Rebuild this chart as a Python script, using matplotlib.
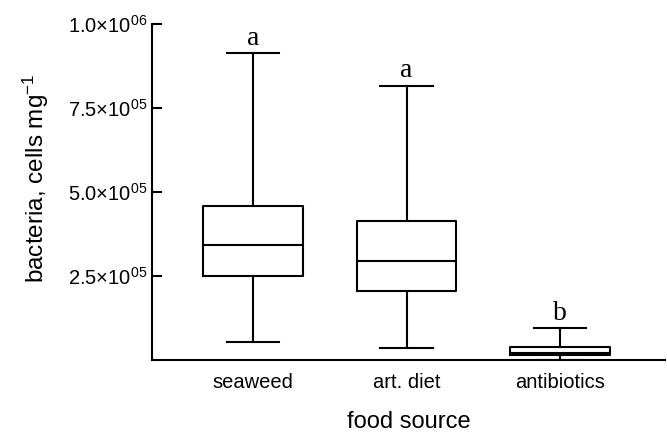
import numpy as np
import matplotlib
matplotlib.use("Agg")
import matplotlib.pyplot as plt
from matplotlib.ticker import FuncFormatter

# Box plot summaries (cells per mg)
categories = ['seaweed', 'art. diet', 'antibiotics']
whislo = [5.4e4, 3.6e4, 1.0e3]
q1 = [2.49e5, 2.05e5, 1.6e4]
med = [3.41e5, 2.95e5, 2.1e4]
q3 = [4.57e5, 4.14e5, 3.96e4]
whishi = [9.13e5, 8.16e5, 9.4e4]
letters = ['a', 'a', 'b']
yticks = [2.5e5, 5.0e5, 7.5e5, 1.0e6]

plt.rcParams['font.family'] = 'Liberation Sans'
plt.rcParams['mathtext.fontset'] = 'custom'
plt.rcParams['mathtext.rm'] = 'Liberation Sans'
plt.rcParams['mathtext.it'] = 'Liberation Sans'

fig = plt.figure(figsize=(6.67, 4.34), dpi=100)
ax = fig.add_axes([0.228, 0.1705, 0.769, 0.774])

stats = []
for i in range(len(categories)):
    stats.append(dict(label=categories[i], whislo=whislo[i], q1=q1[i], med=med[i],
                      q3=q3[i], whishi=whishi[i], fliers=[]))

pos = np.arange(1, len(categories) + 1)
line = dict(color='black', linewidth=1.5)
ax.bxp(stats, positions=pos, widths=0.65, showfliers=False,
       boxprops=line, medianprops=line, whiskerprops=line, capprops=line,
       capwidths=0.34)

for x, top, lab in zip(pos, whishi, letters):
    ax.annotate(lab, (x, top), xytext=(0, 2), textcoords='offset points',
                ha='center', va='bottom', fontsize=20, family='Liberation Serif')

ax.set_xlim(0.342, 3.684)
ax.set_ylim(0, 1.0e6)
ax.set_yticks(yticks)

def sci(v, p):
    m, e = f'{v:.1e}'.split('e')
    return r'$%s{\times}10^{%02d}$' % (m, int(e))

ax.yaxis.set_major_formatter(FuncFormatter(sci))
ax.tick_params(axis='y', direction='in', length=7.5, width=1.5, labelsize=14.5, pad=3.5)
ax.tick_params(axis='x', length=0, labelsize=14.5, pad=9)
for s in ['top', 'right']:
    ax.spines[s].set_visible(False)
for s in ['left', 'bottom']:
    ax.spines[s].set_linewidth(1.5)

ax.set_ylabel(r'bacteria, cells mg$^{\mathregular{-1}}$', fontsize=17.5)
ax.yaxis.set_label_coords(-0.198, 0.54)
ax.set_xlabel('food source', fontsize=17)
ax.xaxis.set_label_coords(0.5, -0.153)

fig.savefig('out.png', dpi=100)
